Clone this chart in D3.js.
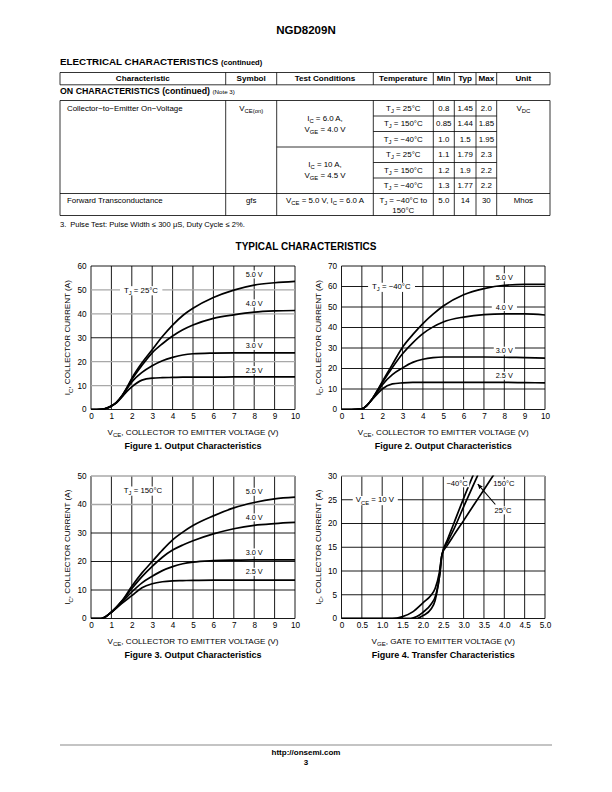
<!DOCTYPE html>
<html><head><meta charset="utf-8">
<script src="https://cdn.jsdelivr.net/npm/d3@7"></script>
<style>body{margin:0;background:#fff} svg{display:block}</style>
</head><body><svg id="page" width="612" height="792"></svg>
<script>
// ---------------- DATA ----------------
// Table
const tableHeaders = ["Characteristic","Symbol","Test Conditions","Temperature","Min","Typ","Max","Unit"];
const onCharName = "Collector\u2212to\u2212Emitter On\u2212Voltage";
const onCharSymbol = "V{CE(on)}";
const onConditions = [["I{C} = 6.0 A,","V{GE} = 4.0 V"],["I{C} = 10 A,","V{GE} = 4.5 V"]];
const onTemps = ["T{J} = 25\u00B0C","T{J} = 150\u00B0C","T{J} = \u221240\u00B0C","T{J} = 25\u00B0C","T{J} = 150\u00B0C","T{J} = \u221240\u00B0C"];
const onMin = ["0.8","0.85","1.0","1.1","1.2","1.3"];
const onTyp = ["1.45","1.44","1.5","1.79","1.9","1.77"];
const onMax = ["2.0","1.85","1.95","2.3","2.2","2.2"];
const onUnit = "V{DC}";
const fwdRow = ["Forward Transconductance","gfs","V{CE} = 5.0 V, I{C} = 6.0 A","5.0","14","30","Mhos"];
const fwdTemp = ["T{J} = \u221240\u00B0C to","150\u00B0C"];

// Figure 1 (TJ = 25 C)
const vce25   = [0, 0.5, 0.75, 1, 1.25, 1.5, 1.75, 2, 2.5, 3, 3.5, 4, 4.5, 5, 6, 7, 8, 9, 10];
const ic25_50 = [0, 0.1, 0.5, 1.5, 3, 5.5, 9, 13, 19.5, 25, 30.5, 35.3, 39.3, 42.3, 46.8, 49.9, 52, 53, 53.6];
const ic25_40 = [0, 0.1, 0.5, 1.5, 3, 5.5, 8.8, 12.5, 18.5, 23.7, 27.5, 30.7, 33.3, 35.3, 38.1, 39.6, 40.7, 41.2, 41.4];
const ic25_30 = [0, 0.1, 0.5, 1.5, 3, 5.3, 8.5, 11.5, 15.5, 18.3, 20.4, 21.8, 22.8, 23.3, 23.6, 23.7, 23.7, 23.7, 23.7];
const ic25_25 = [0, 0.1, 0.5, 1.5, 2.8, 5, 7.5, 9.5, 12.3, 13.1, 13.3, 13.4, 13.5, 13.5, 13.5, 13.6, 13.6, 13.6, 13.6];

// Figure 2 (TJ = -40 C)
const vceM40   = [0, 0.5, 1, 1.25, 1.5, 1.75, 2, 2.5, 3, 3.5, 4, 4.5, 5, 6, 7, 8, 9, 10];
const icM40_50 = [0, 0, 0.3, 2, 5, 9, 13.5, 22, 30.4, 36.5, 41.9, 46.5, 50.5, 56, 59, 60.6, 61, 61];
const icM40_40 = [0, 0, 0.3, 2, 5, 9, 13, 20.5, 27.2, 32.5, 37, 40.3, 42.7, 45.1, 46.3, 46.6, 46.6, 46.1];
const icM40_30 = [0, 0, 0.3, 2, 5, 8.5, 12, 17, 20.3, 23, 24.5, 25.3, 25.6, 25.6, 25.6, 25.5, 25.3, 25.1];
const icM40_25 = [0, 0, 0.3, 2, 4.8, 7.5, 10, 12.5, 13, 13.2, 13.2, 13.2, 13.2, 13.2, 13.2, 13.2, 13.1, 13];

// Figure 3 (TJ = 150 C)
const vce150   = [0, 0.5, 0.75, 1, 1.5, 2, 2.5, 3, 3.5, 4, 4.5, 5, 6, 7, 8, 9, 10];
const ic150_50 = [0, 0, 0.8, 2.2, 6, 11.3, 16, 20, 24, 27.6, 30.3, 32.6, 36, 38.8, 40.7, 42, 42.6];
const ic150_40 = [0, 0, 0.8, 2.2, 6, 10.5, 14.7, 18.3, 21.5, 24, 25.8, 27.3, 29.7, 31.5, 32.7, 33.3, 33.7];
const ic150_30 = [0, 0, 0.8, 2.2, 5.6, 9.3, 12.5, 14.8, 16.8, 18.2, 19.2, 19.8, 20.3, 20.5, 20.6, 20.6, 20.6];
const ic150_25 = [0, 0, 0.8, 2.2, 5.2, 8, 10.8, 12.2, 12.9, 13.2, 13.3, 13.4, 13.5, 13.5, 13.5, 13.5, 13.5];

// Figure 4 (transfer, VCE = 10 V)
const vgeT150 = [0, 1.25, 1.5, 1.75, 2.0, 2.2, 2.3, 2.4, 2.47, 2.6, 2.75, 3.0, 3.25, 3.5, 3.75];
const icT150  = [0, 0, 0.4, 1.4, 3.3, 4.9, 6.3, 9.5, 13.5, 15.4, 17.4, 20.6, 23.9, 27.1, 30.4];
const vgeT25  = [0, 1.7, 1.85, 2.0, 2.2, 2.32, 2.42, 2.47, 2.6, 2.75, 3.0, 3.25, 3.35];
const icT25   = [0, 0, 0.4, 1.3, 3, 5, 9.5, 13.5, 16, 18.6, 23.5, 28.3, 30.2];
const vgeTM40 = [0, 1.85, 2.0, 2.2, 2.3, 2.4, 2.47, 2.6, 2.75, 3.0, 3.25];
const icTM40  = [0, 0, 0.6, 2, 3.8, 8.5, 13.5, 16.5, 19.8, 25.3, 30.5];

// Tick values
const vceTicks = [0,1,2,3,4,5,6,7,8,9,10];
const fig1YTicks = [0,10,20,30,40,50,60];
const fig2YTicks = [0,10,20,30,40,50,60,70];
const fig3YTicks = [0,10,20,30,40,50];
const vgeTicks = [0,0.5,1,1.5,2,2.5,3,3.5,4,4.5,5];
const vgeTickLabels = ["0","0.5","1.0","1.5","2.0","2.5","3.0","3.5","4.0","4.5","5.0"];
const fig4YTicks = [0,5,10,15,20,25,30];
const gateLabels = ["5.0 V","4.0 V","3.0 V","2.5 V"];
const tempLabels4 = ["\u221240\u00B0C","150\u00B0C","25\u00B0C"];

// ---------------- DRAWING ----------------
const FONT = '"Liberation Sans", Arial, Helvetica, sans-serif';
const svg = d3.select('#page').attr('font-family', FONT);

function rich(t, str, fs) {
  const parts = str.split(/(\{[^}]*\})/).filter(s => s.length);
  let shifted = false;
  parts.forEach(p => {
    const sub = p.startsWith('{');
    const ts = t.append('tspan').text(sub ? p.slice(1, -1) : p);
    if (sub) { ts.attr('font-size', fs * 0.75).attr('dy', fs * 0.28); shifted = true; }
    else if (shifted) { ts.attr('dy', -fs * 0.28); shifted = false; }
  });
}
function txt(parent, str, x, y, o = {}) {
  const fs = o.size || 7;
  const t = parent.append('text').attr('x', x).attr('y', y).attr('dy', '0.35em')
    .attr('font-size', fs).attr('text-anchor', o.anchor || 'start').attr('fill', '#000');
  if (o.bold) t.attr('font-weight', 'bold');
  rich(t, str, fs);
  return t;
}
function boxed(parent, str, x, y, fs, padX = 2) {
  const g = parent.append('g');
  const t = txt(g, str, x, y, { size: fs, anchor: 'middle' });
  const bb = t.node().getBBox();
  g.insert('rect', () => t.node()).attr('x', bb.x - padX).attr('y', bb.y + 0.5)
    .attr('width', bb.width + 2 * padX).attr('height', bb.height - 1).attr('fill', '#fff');
  return g;
}

// Page header
txt(svg, 'NGD8209N', 306, 30, { size: 11.5, bold: true, anchor: 'middle' });
{
  const t = svg.append('text').attr('x', 60).attr('y', 62).attr('dy', '0.35em').attr('font-weight', 'bold').attr('font-size', 9.8);
  t.append('tspan').text('ELECTRICAL CHARACTERISTICS ');
  t.append('tspan').attr('font-size', 7.6).text('(continued)');
}

// ---- Table ----
const colX = [60, 225.7, 276.7, 373.3, 433.3, 454.3, 476, 496.7, 550];
const colC = i => (colX[i] + colX[i + 1]) / 2;
const hdrTop = 72.5, hdrBot = 84.8;
const bodyTop = 100.5, rowH = 15.5, bodyBot = 215.5;
const rowY = i => bodyTop + i * rowH;
const tbl = svg.append('g');
const lineStyle = s => s.attr('stroke', '#000').attr('stroke-width', 0.8);
function hline(x1, x2, y) { lineStyle(tbl.append('line').attr('x1', x1).attr('x2', x2).attr('y1', y).attr('y2', y)); }
function vline(x, y1, y2) { lineStyle(tbl.append('line').attr('x1', x).attr('x2', x).attr('y1', y1).attr('y2', y2)); }

// header
hline(colX[0], colX[8], hdrTop); hline(colX[0], colX[8], hdrBot);
colX.forEach(x => vline(x, hdrTop, hdrBot));
tableHeaders.forEach((h, i) => txt(tbl, h, colC(i), (hdrTop + hdrBot) / 2, { size: 8.1, bold: true, anchor: 'middle' }));
{
  const t = svg.append('text').attr('x', 60).attr('y', 91).attr('dy', '0.35em').attr('font-weight', 'bold').attr('font-size', 8.8);
  t.append('tspan').text('ON CHARACTERISTICS (continued) ');
  t.append('tspan').attr('font-weight', 'normal').attr('font-size', 6.2).text('(Note 3)');
}
// body lines
hline(colX[0], colX[8], bodyTop); hline(colX[0], colX[8], bodyBot);
colX.forEach(x => vline(x, bodyTop, bodyBot));
[1, 2, 4, 5].forEach(i => hline(colX[3], colX[7], rowY(i)));
hline(colX[2], colX[7], rowY(3));
hline(colX[0], colX[8], rowY(6));

const fsT = 7.9;
txt(tbl, onCharName, 67, rowY(0) + 7.3, { size: fsT });
txt(tbl, onCharSymbol, colC(1), rowY(0) + 7.3, { size: fsT, anchor: 'middle' });
onConditions.forEach((c, k) => {
  const cy = (rowY(3 * k) + rowY(3 * k + 3)) / 2;
  txt(tbl, c[0], colC(2), cy - 5.8, { size: fsT, anchor: 'middle' });
  txt(tbl, c[1], colC(2), cy + 5.2, { size: fsT, anchor: 'middle' });
});
onTemps.forEach((s, i) => {
  const cy = rowY(i) + rowH / 2 - 0.5;
  txt(tbl, s, colC(3), cy, { size: fsT, anchor: 'middle' });
  txt(tbl, onMin[i], colC(4), cy, { size: fsT, anchor: 'middle' });
  txt(tbl, onTyp[i], colC(5), cy, { size: fsT, anchor: 'middle' });
  txt(tbl, onMax[i], colC(6), cy, { size: fsT, anchor: 'middle' });
});
txt(tbl, onUnit, colC(7), rowY(0) + 7.3, { size: fsT, anchor: 'middle' });
{
  const y0 = rowY(6) + 7;
  txt(tbl, fwdRow[0], 67, y0, { size: fsT });
  txt(tbl, fwdRow[1], colC(1), y0, { size: fsT, anchor: 'middle' });
  txt(tbl, fwdRow[2], colC(2), y0, { size: fsT, anchor: 'middle' });
  txt(tbl, fwdTemp[0], colC(3), y0, { size: fsT, anchor: 'middle' });
  txt(tbl, fwdTemp[1], colC(3), y0 + 9.3, { size: fsT, anchor: 'middle' });
  txt(tbl, fwdRow[3], colC(4), y0, { size: fsT, anchor: 'middle' });
  txt(tbl, fwdRow[4], colC(5), y0, { size: fsT, anchor: 'middle' });
  txt(tbl, fwdRow[5], colC(6), y0, { size: fsT, anchor: 'middle' });
  txt(tbl, fwdRow[6], colC(7), y0, { size: fsT, anchor: 'middle' });
}
txt(svg, '3.\u2002Pulse Test: Pulse Width \u2264 300 \u03BCS, Duty Cycle \u2264 2%.', 60, 224, { size: 7.6 });

txt(svg, 'TYPICAL CHARACTERISTICS', 306, 246, { size: 10, bold: true, anchor: 'middle' });

// ---- Charts ----
let clipId = 0;
function drawChart(c) {
  const g = svg.append('g');
  const x = d3.scaleLinear().domain(c.xDomain).range([c.left, c.left + c.w]);
  const y = d3.scaleLinear().domain(c.yDomain).range([c.top + c.h, c.top]);
  // vertical grid
  g.append('g').selectAll('line').data(c.xTicks).join('line')
    .attr('x1', d => x(d)).attr('x2', d => x(d)).attr('y1', c.top).attr('y2', c.top + c.h)
    .attr('stroke', '#000').attr('stroke-width', 0.9);
  // horizontal grid
  g.append('g').selectAll('line').data(c.yTicks).join('line')
    .attr('x1', c.left).attr('x2', c.left + c.w).attr('y1', d => y(d)).attr('y2', d => y(d))
    .attr('stroke', d => c.grayY.includes(d) ? '#a8a8a8' : '#000')
    .attr('stroke-width', d => c.grayY.includes(d) ? 1.3 : 0.9);
  // axes (labels only)
  const xa = g.append('g').attr('transform', `translate(0,${c.top + c.h})`)
    .call(d3.axisBottom(x).tickValues(c.xTicks).tickSize(0).tickPadding(4).tickFormat(c.xFmt));
  xa.select('.domain').remove();
  xa.attr('font-family', FONT).attr('font-size', 8.2);
  const ya = g.append('g').attr('transform', `translate(${c.left},0)`)
    .call(d3.axisLeft(y).tickValues(c.yTicks).tickSize(0).tickPadding(4.5).tickFormat(d3.format('d')));
  ya.select('.domain').remove();
  ya.attr('font-family', FONT).attr('font-size', 8.2);
  ya.selectAll('text').attr('dy', '0.3em');
  // curves
  const id = 'clip' + (clipId++);
  svg.append('clipPath').attr('id', id).append('rect')
    .attr('x', c.left).attr('y', c.top - 0.5).attr('width', c.w).attr('height', c.h + 1);
  const line = d3.line().x(d => x(d[0])).y(d => y(d[1])).curve(d3.curveMonotoneX);
  g.append('g').attr('clip-path', `url(#${id})`).selectAll('path').data(c.series).join('path')
    .attr('d', s => line(s.x.map((v, i) => [v, s.y[i]])))
    .attr('fill', 'none').attr('stroke', '#000').attr('stroke-width', 1.7).attr('stroke-linejoin', 'round');
  // labels
  (c.labels || []).forEach(l => boxed(g, l.text, x(l.x), y(l.y), l.size || 7.3, l.pad == null ? 2 : l.pad));
  if (c.extra) c.extra(g, x, y);
  // titles
  const yt = g.append('text').attr('transform', `translate(${c.left - 23.5},${c.top + c.h / 2}) rotate(-90)`)
    .attr('text-anchor', 'middle').attr('dy', '0.35em').attr('font-size', 8.1);
  rich(yt, 'I{C}, COLLECTOR CURRENT (A)', 8.1);
  txt(g, c.xTitle, c.left + c.w / 2, c.top + c.h + 22.5, { size: 8.1, anchor: 'middle' });
  txt(g, c.caption, c.left + c.w / 2, c.top + c.h + 36.5, { size: 9, bold: true, anchor: 'middle' });
}

const vceTitle = 'V{CE}, COLLECTOR TO EMITTER VOLTAGE (V)';
const intFmt = d3.format('d');

drawChart({
  left: 91, top: 266, w: 204, h: 143.5, xDomain: [0, 10], yDomain: [0, 60],
  xTicks: vceTicks, yTicks: fig1YTicks, xFmt: intFmt, grayY: [10, 20, 40, 50],
  series: [{ x: vce25, y: ic25_50 }, { x: vce25, y: ic25_40 }, { x: vce25, y: ic25_30 }, { x: vce25, y: ic25_25 }],
  labels: [
    { text: 'T{J} = 25\u00B0C', x: 2.45, y: 50, pad: 4, size: 7.8 },
    { text: gateLabels[0], x: 8, y: 56.5 }, { text: gateLabels[1], x: 8, y: 44.4 },
    { text: gateLabels[2], x: 8, y: 26.6 }, { text: gateLabels[3], x: 8, y: 16.5 }],
  xTitle: vceTitle, caption: 'Figure 1. Output Characteristics'
});
drawChart({
  left: 341.5, top: 266, w: 203.5, h: 143.5, xDomain: [0, 10], yDomain: [0, 70],
  xTicks: vceTicks, yTicks: fig2YTicks, xFmt: intFmt, grayY: [],
  series: [{ x: vceM40, y: icM40_50 }, { x: vceM40, y: icM40_40 }, { x: vceM40, y: icM40_30 }, { x: vceM40, y: icM40_25 }],
  labels: [
    { text: 'T{J} = \u221240\u00B0C', x: 2.45, y: 60, pad: 4, size: 7.8 },
    { text: gateLabels[0], x: 8, y: 64.5 }, { text: gateLabels[1], x: 8, y: 50, pad: 4 },
    { text: gateLabels[2], x: 8, y: 28.7 }, { text: gateLabels[3], x: 8, y: 16.5 }],
  xTitle: vceTitle, caption: 'Figure 2. Output Characteristics'
});
drawChart({
  left: 91, top: 476, w: 204, h: 142.5, xDomain: [0, 10], yDomain: [0, 50],
  xTicks: vceTicks, yTicks: fig3YTicks, xFmt: intFmt, grayY: [40, 50],
  series: [{ x: vce150, y: ic150_50 }, { x: vce150, y: ic150_40 }, { x: vce150, y: ic150_30 }, { x: vce150, y: ic150_25 }],
  labels: [
    { text: 'T{J} = 150\u00B0C', x: 2.55, y: 45, pad: 3, size: 7.8 },
    { text: gateLabels[0], x: 8, y: 44.5 }, { text: gateLabels[1], x: 8, y: 35.5 },
    { text: gateLabels[2], x: 8, y: 23.2 }, { text: gateLabels[3], x: 8, y: 16.4 }],
  xTitle: vceTitle, caption: 'Figure 3. Output Characteristics'
});
drawChart({
  left: 341.5, top: 476, w: 203.5, h: 142.5, xDomain: [0, 5], yDomain: [0, 30],
  xTicks: vgeTicks, yTicks: fig4YTicks, xFmt: (d, i) => vgeTickLabels[i], grayY: [30],
  series: [{ x: vgeT150, y: icT150 }, { x: vgeT25, y: icT25 }, { x: vgeTM40, y: icTM40 }],
  labels: [
    { text: 'V{CE} = 10 V', x: 0.82, y: 25, pad: 3, size: 7.8 },
    { text: tempLabels4[0], x: 2.84, y: 28.5, pad: 1, size: 7.6 },
    { text: tempLabels4[1], x: 3.99, y: 28.5, pad: 1, size: 7.6 },
    { text: tempLabels4[2], x: 3.97, y: 22.8, pad: 1, size: 7.6 }],
  extra: (g, x, y) => {
    svg.append('defs').append('marker').attr('id', 'arr').attr('viewBox', '0 0 10 10')
      .attr('refX', 9).attr('refY', 5).attr('markerWidth', 5).attr('markerHeight', 5).attr('orient', 'auto')
      .append('path').attr('d', 'M0,1 L10,5 L0,9 Z').attr('fill', '#000');
    g.append('line').attr('x1', x(3.78)).attr('y1', y(24.0)).attr('x2', x(3.35)).attr('y2', y(28.3))
      .attr('stroke', '#000').attr('stroke-width', 1.1).attr('marker-end', 'url(#arr)');
  },
  xTitle: 'V{GE}, GATE TO EMITTER VOLTAGE (V)', caption: 'Figure 4. Transfer Characteristics'
});

// Footer
svg.append('line').attr('x1', 60).attr('x2', 552).attr('y1', 745).attr('y2', 745).attr('stroke', '#b0b0b0').attr('stroke-width', 1.5);
txt(svg, 'http://onsemi.com', 306, 752.5, { size: 8, bold: true, anchor: 'middle' });
txt(svg, '3', 306, 762, { size: 8, bold: true, anchor: 'middle' });
</script></body></html>
